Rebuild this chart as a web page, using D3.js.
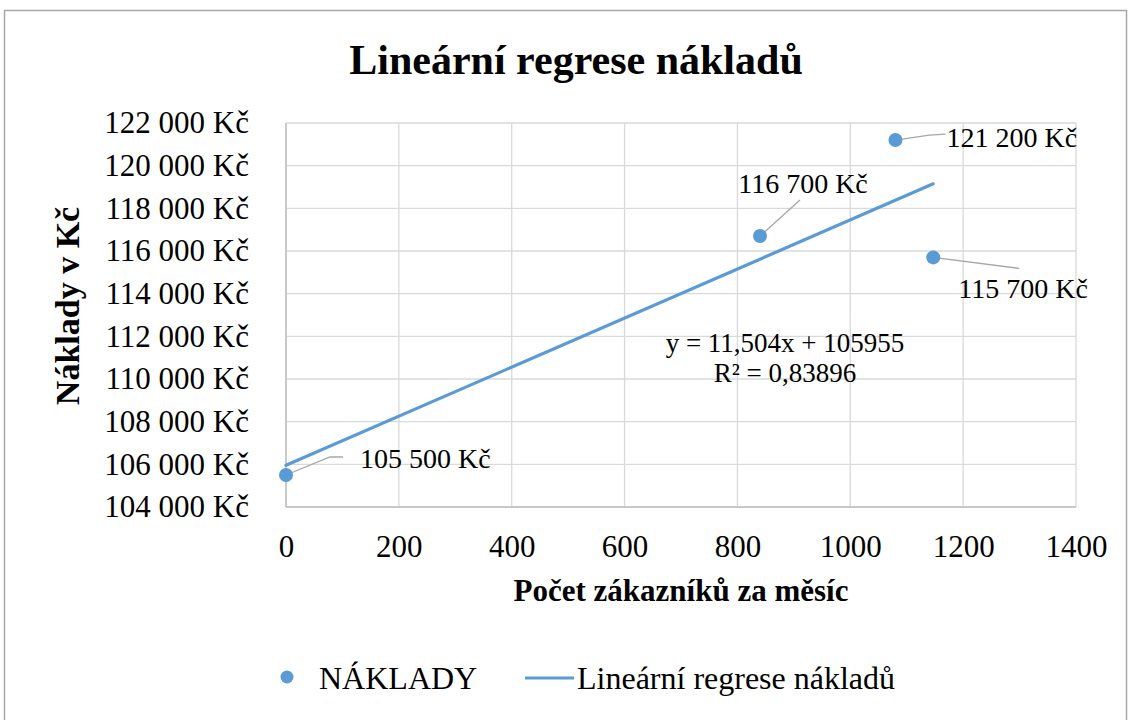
<!DOCTYPE html>
<meta charset="utf-8">
<style>
body { margin: 0; background: #fff; }
text { font-family: "Liberation Serif", "Times New Roman", serif; fill: #000; }
.grid line { stroke: #d9d9d9; stroke-width: 1.3; }
.axis path, .axis line { display: none; }
</style>
<svg width="1131" height="720"></svg>
<script src="https://d3js.org/d3.v7.min.js"></script>
<script>

// data
var zakaznici = [0, 840, 1080, 1147];
var naklady = [105500, 116700, 121200, 115700];
var popisky = ["105 500 Kč", "116 700 Kč", "121 200 Kč", "115 700 Kč"];
var xTicks = [0, 200, 400, 600, 800, 1000, 1200, 1400];
var yTicks = [104000, 106000, 108000, 110000, 112000, 114000, 116000, 118000, 120000, 122000];
var sklon = 11.504, posun = 105955, r2 = "0,83896";

var svg = d3.select("svg");
var blue = "#5b9bd5";

// outer frame
svg.append("rect").attr("x", 4.5).attr("y", 10.5).attr("width", 1122).attr("height", 720)
    .attr("fill", "none").attr("stroke", "#a6a6a6").attr("stroke-width", 1.5);

var x = d3.scaleLinear().domain([0, 1400]).range([286, 1076]);
var y = d3.scaleLinear().domain([104000, 122000]).range([507, 123]);

var fmt = d => d3.format(",")(d).replace(/,/g, " ") + " Kč";

// gridlines
var grid = svg.append("g").attr("class", "grid");
grid.selectAll(".h").data(yTicks).enter().append("line")
    .attr("x1", x(0)).attr("x2", x(1400)).attr("y1", d => y(d)).attr("y2", d => y(d));
grid.selectAll(".v").data(xTicks).enter().append("line")
    .attr("y1", y(104000)).attr("y2", y(122000)).attr("x1", d => x(d)).attr("x2", d => x(d));
// axis lines a bit darker
svg.append("line").attr("x1", x(0)).attr("x2", x(1400)).attr("y1", y(104000)).attr("y2", y(104000))
    .attr("stroke", "#bfbfbf").attr("stroke-width", 1.5);
svg.append("line").attr("x1", x(0)).attr("x2", x(0)).attr("y1", y(104000)).attr("y2", y(122000))
    .attr("stroke", "#bfbfbf").attr("stroke-width", 1.5);

// axes
svg.append("g").attr("class", "axis").attr("transform", "translate(0," + y(104000) + ")")
    .call(d3.axisBottom(x).tickValues(xTicks).tickFormat(d3.format("d")).tickSize(0).tickPadding(28))
    .selectAll("text").style("font-size", "31px");
svg.append("g").attr("class", "axis").attr("transform", "translate(" + x(0) + ",0)")
    .call(d3.axisLeft(y).tickValues(yTicks).tickFormat(fmt).tickSize(0).tickPadding(37))
    .selectAll("text").style("font-size", "31px");

// title
svg.append("text").attr("x", 576).attr("y", 74).attr("text-anchor", "middle")
    .style("font-size", "42px").style("font-weight", "bold").text("Lineární regrese nákladů");

// axis titles
svg.append("text").attr("x", 681).attr("y", 601).attr("text-anchor", "middle")
    .style("font-size", "31px").style("font-weight", "bold").text("Počet zákazníků za měsíc");
svg.append("text").attr("transform", "translate(79,306) rotate(-90)").attr("text-anchor", "middle")
    .style("font-size", "34px").style("font-weight", "bold").text("Náklady v Kč");

// regression line
var xMax = d3.max(zakaznici);
svg.append("line")
    .attr("x1", x(0)).attr("y1", y(posun))
    .attr("x2", x(xMax)).attr("y2", y(posun + sklon * xMax))
    .attr("stroke", blue).attr("stroke-width", 3.2).attr("stroke-linecap", "round");

// leader lines + labels (offsets in px from point)
var labelPos = [
  {lx: [44, 57], ly: [-18, -18], tx: 74, ty: -7, anchor: "start"},
  {lx: [40, 40], ly: [-36, -36], tx: 43, ty: -43, anchor: "middle"},
  {lx: [34, 50], ly: [-5, -6], tx: 51, ty: 7, anchor: "start"},
  {lx: [86, 86], ly: [11, 11], tx: 25, ty: 41, anchor: "start"}
];
var pts = zakaznici.map((d, i) => ({x: d, y: naklady[i], l: popisky[i], p: labelPos[i]}));

svg.selectAll(".leader").data(pts).enter().append("polyline")
    .attr("fill", "none").attr("stroke", "#a6a6a6").attr("stroke-width", 1.3)
    .attr("points", d => {
      var px = x(d.x), py = y(d.y);
      return [[px, py], [px + d.p.lx[0], py + d.p.ly[0]], [px + d.p.lx[1], py + d.p.ly[1]]].join(" ");
    });

svg.selectAll(".pt").data(pts).enter().append("circle")
    .attr("cx", d => x(d.x)).attr("cy", d => y(d.y)).attr("r", 7).attr("fill", blue);

svg.selectAll(".lbl").data(pts).enter().append("text")
    .attr("x", d => x(d.x) + d.p.tx).attr("y", d => y(d.y) + d.p.ty)
    .attr("text-anchor", d => d.p.anchor)
    .style("font-size", "28px").text(d => d.l);

// equation
var eq = svg.append("text").attr("text-anchor", "middle").style("font-size", "27px");
eq.append("tspan").attr("x", 785).attr("y", 352).text("y = " + String(sklon).replace(".", ",") + "x + " + posun);
eq.append("tspan").attr("x", 785).attr("y", 382).text("R² = " + r2);

// legend
svg.append("circle").attr("cx", 287).attr("cy", 677).attr("r", 6.5).attr("fill", blue);
svg.append("text").attr("x", 319).attr("y", 689).style("font-size", "32px").text("NÁKLADY");
svg.append("line").attr("x1", 525).attr("x2", 574).attr("y1", 678).attr("y2", 678)
    .attr("stroke", blue).attr("stroke-width", 3.2);
svg.append("text").attr("x", 577).attr("y", 689).style("font-size", "32px").text("Lineární regrese nákladů");

</script>
